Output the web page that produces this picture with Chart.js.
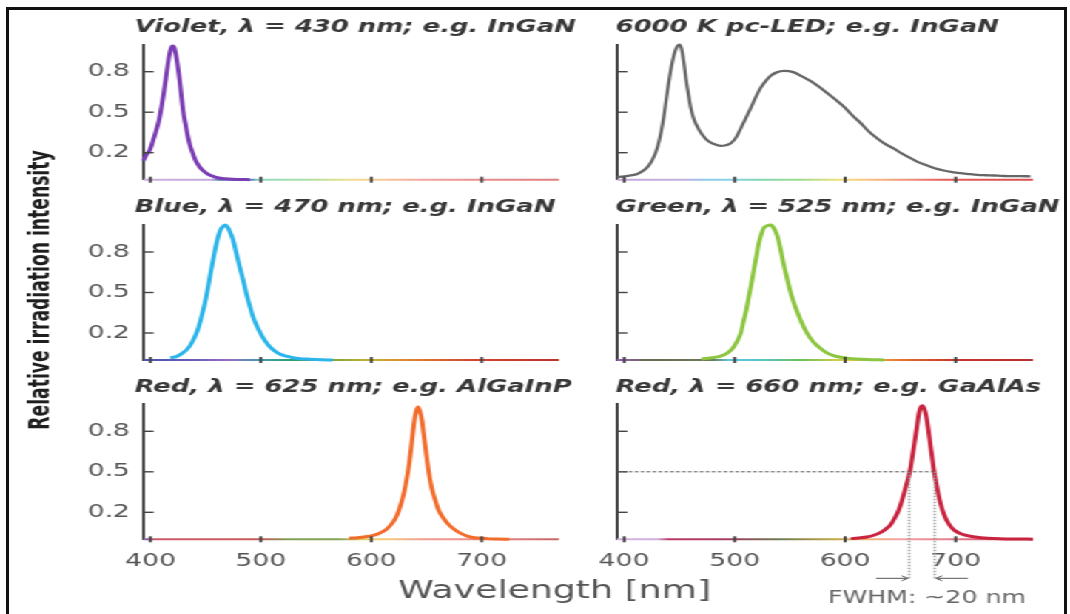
<!DOCTYPE html>
<html>
<head>
<meta charset="utf-8">
<title>LED emission spectra</title>
<script src="https://cdn.jsdelivr.net/npm/chart.js@4.4.1/dist/chart.umd.min.js"></script>
<style>
  html, body { margin: 0; padding: 0; background: #fff; }
  body { width: 1070px; height: 614px; position: relative; overflow: hidden; }
  #frame { position: absolute; left: 6px; top: 7px; width: 1061px; height: 700px; border: 3px solid #111; box-sizing: border-box; }
  /* the source figure is stretched sideways, so the charts are drawn narrow and scaled */
  #stage { position: absolute; left: 0; top: 0; width: 723px; height: 614px; transform: scaleX(1.48); transform-origin: 0 0; }
  #stage canvas { position: absolute; left: 0; top: 0; }
</style>
</head>
<body>
<div id="frame"></div>
<div id="stage">
  <canvas id="c0" width="723" height="614"></canvas>
  <canvas id="c1" width="723" height="614"></canvas>
  <canvas id="c2" width="723" height="614"></canvas>
  <canvas id="c3" width="723" height="614"></canvas>
  <canvas id="c4" width="723" height="614"></canvas>
  <canvas id="c5" width="723" height="614"></canvas>
</div>
<script>
// tick values
var xTicks = [400, 500, 600, 700];
var yTicks = [0.2, 0.5, 0.8];
var xMin = 393.5, xMax = 770;

// wavelength [nm] and relative intensity
var violetNm = [393.5, 396, 399.4, 402, 405.4, 408, 410, 412, 413.8, 416.8, 418.5, 420, 421.5, 423.4, 426.4, 428, 430, 432, 433.9, 436, 438.4, 441, 444.4, 448, 452, 456, 459.5, 465, 471, 480, 490];
var violetVal = [0.14, 0.18, 0.22, 0.28, 0.37, 0.45, 0.54, 0.64, 0.74, 0.91, 0.97, 0.99, 0.98, 0.91, 0.74, 0.62, 0.49, 0.40, 0.32, 0.25, 0.195, 0.14, 0.096, 0.065, 0.042, 0.027, 0.017, 0.009, 0.005, 0.002, 0];

var whiteNm = [393.5, 400, 406, 412, 417, 421, 425, 428.7, 432, 434.7, 437, 439.2, 441.5, 443.8, 446, 448.3, 450, 451.9, 454, 455.8, 458, 460.3, 463, 466.4, 470, 475.4, 481, 487.4, 492, 496.5, 501, 505.5, 510, 514.5, 519, 523.5, 528, 532.6, 538, 544.7, 549, 553.7, 561, 568.8, 576, 583.9, 591, 599, 606, 614, 621, 629.1, 636, 644.2, 651, 659.2, 666, 674.3, 681, 689.3, 697, 704.4, 712, 719.5, 727, 734.5, 742, 749.6, 758, 767.7];
var whiteVal = [0.02, 0.025, 0.032, 0.043, 0.065, 0.093, 0.14, 0.205, 0.3, 0.41, 0.53, 0.66, 0.78, 0.88, 0.95, 0.99, 1.0, 0.97, 0.87, 0.755, 0.64, 0.53, 0.45, 0.39, 0.34, 0.29, 0.265, 0.25, 0.255, 0.27, 0.31, 0.38, 0.455, 0.53, 0.61, 0.68, 0.73, 0.77, 0.795, 0.806, 0.805, 0.795, 0.765, 0.73, 0.69, 0.64, 0.595, 0.54, 0.48, 0.42, 0.36, 0.305, 0.265, 0.23, 0.195, 0.16, 0.13, 0.105, 0.085, 0.068, 0.057, 0.049, 0.042, 0.036, 0.033, 0.031, 0.028, 0.026, 0.026, 0.025];

var blueNm = [418, 423.5, 428, 432.6, 436.5, 440.1, 443.5, 446.2, 449.5, 452.2, 454.5, 456.7, 459, 461.2, 463.5, 465.8, 468, 470.3, 472.5, 474.8, 477.8, 480.8, 484, 486.9, 490, 492.9, 496.5, 500.5, 504, 508, 512, 517, 523, 529, 536, 544, 555, 565];
var blueVal = [0.017, 0.025, 0.045, 0.074, 0.115, 0.17, 0.24, 0.32, 0.43, 0.54, 0.645, 0.74, 0.835, 0.91, 0.965, 0.99, 1.0, 0.98, 0.94, 0.89, 0.79, 0.69, 0.59, 0.49, 0.40, 0.32, 0.25, 0.185, 0.14, 0.099, 0.07, 0.044, 0.028, 0.017, 0.01, 0.006, 0.002, 0];

var greenNm = [470, 481, 488, 493.1, 498, 502.2, 505.5, 508.1, 510.5, 512.6, 515, 517.2, 519.5, 521.7, 524, 526.2, 529.5, 532.9, 535.5, 538.3, 541.3, 544.3, 547.3, 550.3, 553.3, 556.4, 560.5, 565.4, 571, 577.4, 583, 589.4, 596, 601.5, 610, 620, 635];
var greenVal = [0.008, 0.018, 0.03, 0.05, 0.085, 0.138, 0.2, 0.29, 0.37, 0.46, 0.56, 0.66, 0.76, 0.86, 0.93, 0.976, 0.995, 1.0, 0.975, 0.926, 0.83, 0.71, 0.61, 0.51, 0.43, 0.36, 0.28, 0.2, 0.135, 0.088, 0.055, 0.033, 0.02, 0.014, 0.008, 0.004, 0];

var orangeNm = [580, 587.4, 595, 600.9, 607, 612.9, 617.5, 621.9, 625, 627.9, 630.3, 632.4, 634.5, 636.3, 637.8, 639, 640.7, 642.3, 644, 645.9, 647.3, 648.9, 650.8, 652.8, 655, 657.9, 661, 665.4, 670, 676, 682, 689.5, 697, 704.5, 715, 725];
var orangeVal = [0.008, 0.012, 0.019, 0.027, 0.043, 0.069, 0.105, 0.156, 0.215, 0.29, 0.37, 0.46, 0.57, 0.69, 0.8, 0.88, 0.95, 0.98, 0.95, 0.88, 0.79, 0.69, 0.57, 0.46, 0.37, 0.29, 0.215, 0.156, 0.11, 0.069, 0.04, 0.017, 0.009, 0.005, 0.002, 0];

var redNm = [605, 612, 619.7, 626, 631.8, 636.5, 640.9, 645, 648.5, 651.5, 654.5, 657, 659.1, 661.5, 663.6, 665.2, 666.7, 668.2, 669.7, 671.5, 673.6, 675.5, 677.3, 678.8, 680.3, 682.5, 684.8, 687.5, 690.9, 694.5, 698.5, 704, 710.6, 719, 728.8, 740, 755, 770];
var redVal = [0.005, 0.01, 0.017, 0.03, 0.049, 0.075, 0.106, 0.16, 0.217, 0.29, 0.378, 0.45, 0.526, 0.65, 0.76, 0.85, 0.93, 0.975, 0.99, 0.97, 0.90, 0.8, 0.686, 0.6, 0.51, 0.41, 0.316, 0.23, 0.156, 0.105, 0.069, 0.043, 0.027, 0.015, 0.008, 0.004, 0.002, 0.001];

// FWHM annotation of the 660 nm panel
var halfMax = 0.5;
var fwhmLow = 658, fwhmHigh = 681;

var W = 723, H = 614;
var cols = [{ titleX: 91, left: 96.8, right: 377.7 }, { titleX: 416, left: 416.9, right: 698 }];
var rows = [{ titleY: 31.7, top: 44.7, bottom: 179.7 }, { titleY: 211.7, top: 225, bottom: 360 }, { titleY: 391.7, top: 404.3, bottom: 539.3 }];

var panels = [
    { title: 'Violet, λ = 430 nm; e.g. InGaN', nm: violetNm, val: violetVal, color: '#7b3db3', width: 3, col: 0, row: 0,
      spectrum: [[395, '#cfaee0'], [455, '#c4a9de'], [462, '#5577b3'], [492, '#5c86bd'], [498, '#92dcc4'], [540, '#a9dfa6'], [580, '#efe08c'], [615, '#f8c597'], [650, '#f3a3a3'], [700, '#ea8c8c'], [770, '#e07c7c']] },
    { title: '6000 K pc-LED; e.g. InGaN', nm: whiteNm, val: whiteVal, color: '#666666', width: 2.3, col: 1, row: 0,
      spectrum: [[395, '#c9a9dc'], [455, '#bfb2e0'], [475, '#8ccbe6'], [500, '#86d4e4'], [520, '#7fd6b6'], [560, '#9fdc8e'], [595, '#f2e07a'], [625, '#f8bd80'], [660, '#f08b7a'], [690, '#e45c5c'], [770, '#dc4e4e']] },
    { title: 'Blue, λ = 470 nm; e.g. InGaN', nm: blueNm, val: blueVal, color: '#2bb5ea', width: 3, col: 0, row: 1,
      spectrum: [[395, '#4a55b0'], [440, '#6a5cb8'], [470, '#9a6cc0'], [500, '#3f9fb0'], [530, '#2e9e6a'], [565, '#7fa53c'], [600, '#c8b12e'], [640, '#e07f2e'], [690, '#d2452e'], [770, '#c0302e']] },
    { title: 'Green, λ = 525 nm; e.g. InGaN', nm: greenNm, val: greenVal, color: '#8cc640', width: 3, col: 1, row: 1,
      spectrum: [[395, '#9a58b8'], [420, '#6a6a52'], [480, '#6c7a5a'], [495, '#5ec9e0'], [520, '#56c7d0'], [560, '#6cbf5a'], [600, '#e2d040'], [625, '#f0a840'], [660, '#e0642e'], [700, '#c8342e'], [770, '#b83030']] },
    { title: 'Red, λ = 625 nm; e.g. AlGaInP', nm: orangeNm, val: orangeVal, color: '#f26c2c', width: 3, col: 0, row: 2,
      spectrum: [[395, '#9462b4'], [406, '#cf5a68'], [500, '#c95a5a'], [525, '#7fa052'], [570, '#86a454'], [595, '#e8d262'], [615, '#f5c87c'], [650, '#f29a92'], [700, '#ec8c8c'], [770, '#c86666']] },
    { title: 'Red, λ = 660 nm; e.g. GaAlAs', nm: redNm, val: redVal, color: '#c9243f', width: 3, col: 1, row: 2,
      spectrum: [[395, '#d2b4e2'], [430, '#cfb0e0'], [440, '#c23866'], [500, '#9e4262'], [540, '#6f7c52'], [590, '#c2a644'], [620, '#f2b474'], [650, '#f2a2a2'], [700, '#e47a8a'], [770, '#d04858']] }
];

function spectrumGradient(chart, stops) {
    var area = chart.chartArea, xs = chart.scales.x;
    if (!area || !xs) return stops[0][1];
    var g = chart.ctx.createLinearGradient(xs.getPixelForValue(xMin), 0, xs.getPixelForValue(xMax), 0);
    stops.forEach(function (s) {
        g.addColorStop((s[0] - xMin) / (xMax - xMin), s[1]);
    });
    return g;
}

// short inward ticks on the y axis, small marks across the baseline
var tickMarks = {
    id: 'tickMarks',
    afterDatasetsDraw: function (chart) {
        var ctx = chart.ctx, xs = chart.scales.x, ys = chart.scales.y, a = chart.chartArea;
        ctx.save();
        ctx.strokeStyle = '#444';
        ctx.lineWidth = 1.4;
        yTicks.forEach(function (v) {
            var py = ys.getPixelForValue(v);
            ctx.beginPath(); ctx.moveTo(a.left, py); ctx.lineTo(a.left + 7, py); ctx.stroke();
        });
        ctx.lineWidth = 2;
        xTicks.forEach(function (v) {
            var px = xs.getPixelForValue(v);
            ctx.beginPath(); ctx.moveTo(px, a.bottom - 3); ctx.lineTo(px, a.bottom + 3); ctx.stroke();
        });
        ctx.restore();
    }
};

var panelTitle = {
    id: 'panelTitle',
    afterDraw: function (chart, args, opts) {
        var ctx = chart.ctx;
        ctx.save();
        ctx.font = 'italic bold 17.5px "DejaVu Sans"';
        ctx.fillStyle = '#383838';
        ctx.textBaseline = 'alphabetic';
        ctx.textAlign = 'left';
        ctx.fillText(opts.text, opts.x, opts.y);
        ctx.restore();
    }
};

// shared axis titles of the whole figure
var figureLabels = {
    id: 'figureLabels',
    afterDraw: function (chart) {
        var ctx = chart.ctx;
        ctx.save();
        ctx.fillStyle = '#555';
        ctx.font = '24.5px "DejaVu Sans"';
        ctx.textAlign = 'center';
        ctx.textBaseline = 'alphabetic';
        ctx.fillText('Wavelength [nm]', 374.7, 598.3);

        var label = 'Relative irradiation intensity';
        ctx.font = 'bold 20px "Liberation Sans Narrow", "DejaVu Sans Condensed", sans-serif';
        var size = 20 * 280 / ctx.measureText(label).width;
        ctx.font = 'bold ' + size.toFixed(1) + 'px "Liberation Sans Narrow", "DejaVu Sans Condensed", sans-serif';
        ctx.fillStyle = '#1e1e1e';
        ctx.translate(28.4, 290);
        ctx.rotate(-Math.PI / 2);
        ctx.textBaseline = 'middle';
        ctx.fillText(label, 0, 0);
        ctx.restore();
    }
};

var fwhmNote = {
    id: 'fwhmNote',
    afterDatasetsDraw: function (chart) {
        var ctx = chart.ctx, xs = chart.scales.x, ys = chart.scales.y, a = chart.chartArea;
        var yHalf = ys.getPixelForValue(halfMax), yArrow = a.bottom + 39;
        var xl = xs.getPixelForValue(fwhmLow), xh = xs.getPixelForValue(fwhmHigh);
        function line(x0, y0, x1, y1) { ctx.beginPath(); ctx.moveTo(x0, y0); ctx.lineTo(x1, y1); ctx.stroke(); }
        function arrow(x0, x1, y) {
            var d = x1 > x0 ? 1 : -1;
            line(x0, y, x1, y);
            line(x1 - d * 4, y - 2.5, x1, y);
            line(x1 - d * 4, y + 2.5, x1, y);
        }
        ctx.save();
        ctx.strokeStyle = '#555';
        ctx.lineWidth = 1;
        ctx.setLineDash([2.5, 1.5]);
        line(a.left, yHalf, xh, yHalf);
        ctx.strokeStyle = '#9a9a9a';
        ctx.lineWidth = 1.6;
        ctx.setLineDash([1.5, 1.5]);
        line(xl, yHalf, xl, yArrow);
        line(xh, yHalf, xh, yArrow);
        ctx.setLineDash([]);
        ctx.strokeStyle = '#555';
        ctx.lineWidth = 1;
        arrow(xs.getPixelForValue(628), xl - 1, yArrow);
        arrow(xs.getPixelForValue(711), xh + 1, yArrow);
        ctx.fillStyle = '#666';
        ctx.font = '17px "DejaVu Sans"';
        ctx.textAlign = 'center';
        ctx.fillText('FWHM: ~20 nm', xs.getPixelForValue(674), a.bottom + 64);
        ctx.restore();
    }
};

var tickFont = { family: 'DejaVu Sans', size: 18 };
var yAxisW = 80, xAxisH = 40;

panels.forEach(function (p, i) {
    var col = cols[p.col], row = rows[p.row];
    var points = p.nm.map(function (x, k) { return { x: x, y: p.val[k] }; });
    var extra = [tickMarks, panelTitle];
    if (i === 4) extra.push(figureLabels);
    if (i === 5) extra.push(fwhmNote);

    new Chart(document.getElementById('c' + i), {
        type: 'line',
        data: {
            datasets: [
                {
                    data: points,
                    borderColor: p.color,
                    borderWidth: p.width,
                    pointRadius: 0,
                    cubicInterpolationMode: 'monotone',
                    clip: false
                },
                {
                    // spectral colour strip along the baseline
                    data: [{ x: xMin, y: 0 }, { x: xMax, y: 0 }],
                    borderColor: function (c) { return spectrumGradient(c.chart, p.spectrum); },
                    borderWidth: 2,
                    pointRadius: 0,
                    clip: false
                }
            ]
        },
        options: {
            responsive: false,
            animation: false,
            events: [],
            layout: {
                padding: { left: col.left - yAxisW, right: W - col.right, top: row.top, bottom: H - row.bottom - xAxisH }
            },
            plugins: {
                legend: { display: false },
                tooltip: { enabled: false },
                panelTitle: { text: p.title, x: col.titleX, y: row.titleY }
            },
            scales: {
                x: {
                    type: 'linear',
                    min: xMin,
                    max: xMax,
                    afterFit: function (s) { s.height = xAxisH; },
                    afterBuildTicks: function (s) { s.ticks = xTicks.map(function (v) { return { value: v }; }); },
                    grid: { display: false, drawTicks: false },
                    border: { display: false },
                    ticks: {
                        display: p.row === 2,
                        color: '#555',
                        font: tickFont,
                        padding: 11,
                        maxRotation: 0,
                        autoSkip: false,
                        callback: function (v) { return String(v); }
                    }
                },
                y: {
                    min: 0,
                    max: 1,
                    afterFit: function (s) { s.width = yAxisW; },
                    afterBuildTicks: function (s) { s.ticks = yTicks.map(function (v) { return { value: v }; }); },
                    grid: { display: false, drawTicks: false },
                    border: { display: true, color: '#444', width: 2 },
                    ticks: {
                        display: p.col === 0,
                        color: '#555',
                        font: tickFont,
                        padding: 9,
                        callback: function (v) { return v.toFixed(1); }
                    }
                }
            }
        },
        plugins: extra
    });
});
</script>
</body>
</html>
